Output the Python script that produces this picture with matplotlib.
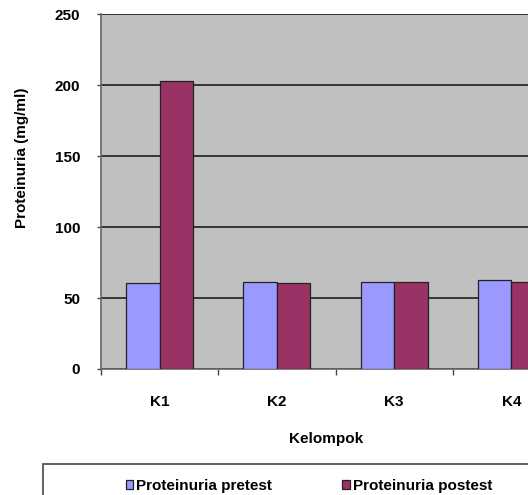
import numpy as np
import matplotlib.pyplot as plt
from matplotlib.patches import Rectangle

plt.rcParams['font.family'] = ['Liberation Sans', 'DejaVu Sans']
plt.rcParams['font.weight'] = 'bold'

kelompok = ['K1', 'K2', 'K3', 'K4']
pretest = [60.5, 61.5, 61.5, 63]
postest = [202.5, 60.5, 61.5, 61.5]
yticks = [0, 50, 100, 150, 200, 250]

W, H = 528, 495
fig = plt.figure(figsize=(W / 100, H / 100), dpi=100)
# plot area runs past the right edge of the picture, as in the cropped original
ax = fig.add_axes([101 / W, (H - 369) / H, (570 - 101) / W, (369 - 14) / H])
ax.set_facecolor('#c0c0c0')

x = np.arange(1, len(kelompok) + 1)
bw = 0.285
ax.bar(x - bw / 2, pretest, bw, color='#9999ff', edgecolor='#222222', linewidth=0.9,
       label='Proteinuria pretest', zorder=3)
ax.bar(x + bw / 2, postest, bw, color='#993366', edgecolor='#222222', linewidth=0.9,
       label='Proteinuria postest', zorder=3)

ax.set_xlim(0.5, 4.5)
ax.set_ylim(0, 250)
ax.set_yticks(yticks)
ax.yaxis.grid(True, color='#2a2a2a', linewidth=1.3, zorder=1)
ax.set_axisbelow(True)

ax.set_xticks(np.arange(0.5, 4.6, 1.0))
ax.set_xticklabels([])
ax.set_xticks(x, minor=True)
ax.set_xticklabels(kelompok, minor=True, fontsize=11, fontweight='bold')
ax.tick_params(axis='x', which='minor', length=0, pad=19)
ax.tick_params(axis='x', which='major', length=4, width=1, color='#444444', direction='out')
ax.tick_params(axis='y', length=3, width=1, color='#444444', pad=12, labelsize=11)

for s in ['top', 'right']:
    ax.spines[s].set_visible(False)
ax.spines['left'].set_color('#666666')
ax.spines['bottom'].set_color('#666666')
ax.spines['left'].set_linewidth(1.2)
ax.spines['bottom'].set_linewidth(1.2)

fig.text(22 / W, 1 - 158 / H, 'Proteinuria (mg/ml)', rotation=90, ha='center', va='center',
         fontsize=11, fontweight='bold')
fig.text(326 / W, 1 - 439 / H, 'Kelompok', ha='center', va='center', fontsize=11,
         fontweight='bold')

# legend box (also cut off by the picture edge)
fig.patches.append(Rectangle((43 / W, -0.1), 1.0, (H - 464) / H + 0.1, transform=fig.transFigure,
                             facecolor='white', edgecolor='#555555', linewidth=1.3))
fig.legend(loc='center left', bbox_to_anchor=(118 / W, 1 - 486 / H), ncol=2, frameon=False,
           borderpad=0, handlelength=0.5, handleheight=0.5, handletextpad=0.2,
           columnspacing=4.6, prop={'size': 11, 'weight': 'bold'})

fig.savefig('out.png', dpi=100)
